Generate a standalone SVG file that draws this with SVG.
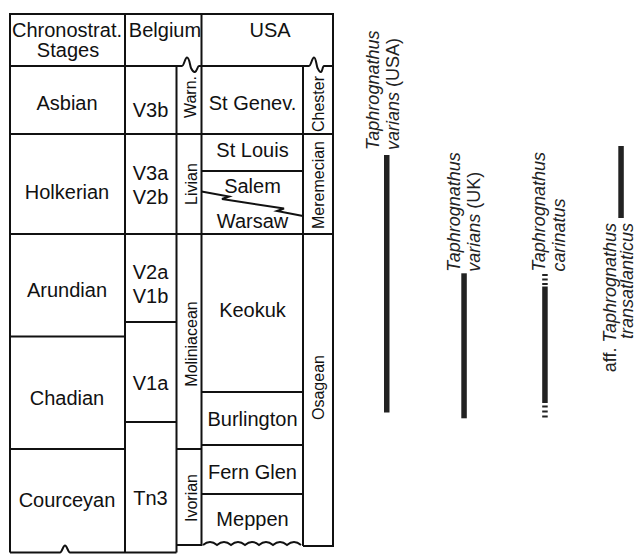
<svg xmlns="http://www.w3.org/2000/svg" width="637" height="554" viewBox="0 0 637 554">
<style>
.ln{stroke:#111;stroke-width:2;fill:none}
.t{font-family:"Liberation Sans",Arial,sans-serif;font-size:20px;fill:#111;text-anchor:middle}
.r{font-family:"Liberation Sans",Arial,sans-serif;font-size:16px;fill:#111;text-anchor:middle}
.tx{font-family:"Liberation Sans",Arial,sans-serif;font-size:18px;fill:#222}
.i{font-style:italic}
.bar{fill:#222}
</style>
<rect width="637" height="554" fill="#fff"/>
<g id="grid">
<path class="ln" d="M10,552.5 V14 H333 V546 H303 M10,552.5 H60 C62,552.5 63,545.5 65,545.5 C67,545.5 68,552.5 70,552.5 H176.5"/>
<path class="ln" d="M125,14 V552.5 M176.5,66 V552.5 M201.5,14 V545 H176.5 M303,66 V546"/>
<path class="ln" d="M10,66 H182 C184,66 185,57.5 187,57.5 C189.5,57.5 190,66 191,68 C192,70 193,72.5 195,72 C197,71.5 197.5,66 199,66 H309 C311,66 312,57.5 314,57.5 C316,57.5 316.5,66 317.5,68 C318.5,70 319.5,72.5 321,72 C322.5,71.5 322.5,66 324,66 H333"/>
<path class="ln" d="M10,134 H333 M10,234 H333 M10,336.5 H125 M10,449 H125 M125,322 H176.5 M125,422 H176.5 M176.5,449 H201.5"/>
<path class="ln" d="M201.5,171 H303 M201.5,392 H303 M201.5,445 H303 M201.5,494 H303"/>
<path class="ln" d="M201.5,191.5 L229,196.5 L222,199 L284,208.5 L277,211 L303,216"/>
<path class="ln" d="M203,545 q7,-6 14,0 q7,-6 14,0 q7,-6 14,0 q7,-6 14,0 q7,-6 14,0 q7,-6 14,0 q7,-6 14,0"/>
</g>
<g id="hdr-chrono"><text class="t" x="67" y="37">Chronostrat.</text><text class="t" x="68" y="57">Stages</text></g>
<g id="hdr-belgium"><text class="t" x="165" y="37">Belgium</text></g>
<g id="hdr-usa"><text class="t" x="270" y="37">USA</text></g>
<g id="asbian"><text class="t" x="67" y="110">Asbian</text></g>
<g id="holkerian"><text class="t" x="67" y="199">Holkerian</text></g>
<g id="arundian"><text class="t" x="67" y="296.5">Arundian</text></g>
<g id="chadian"><text class="t" x="67" y="405">Chadian</text></g>
<g id="courceyan"><text class="t" x="67" y="506.5">Courceyan</text></g>
<g id="v3b"><text class="t" x="150.5" y="117">V3b</text></g>
<g id="v3a-v2b"><text class="t" x="150.5" y="180">V3a</text><text class="t" x="150.5" y="204">V2b</text></g>
<g id="v2a-v1b"><text class="t" x="150.5" y="279">V2a</text><text class="t" x="150.5" y="303">V1b</text></g>
<g id="v1a"><text class="t" x="150.5" y="390">V1a</text></g>
<g id="tn3"><text class="t" x="150.5" y="505">Tn3</text></g>
<g id="warn"><text class="r" transform="translate(196,97) rotate(-90)">Warn.</text></g>
<g id="livian"><text class="r" transform="translate(196.5,184) rotate(-90)">Livian</text></g>
<g id="moliniacean"><text class="r" transform="translate(196.5,344) rotate(-90)">Moliniacean</text></g>
<g id="ivorian"><text class="r" transform="translate(196.5,498) rotate(-90)">Ivorian</text></g>
<g id="st-genev"><text class="t" x="252.5" y="110">St Genev.</text></g>
<g id="st-louis"><text class="t" x="252.5" y="156.5">St Louis</text></g>
<g id="salem"><text class="t" x="252.5" y="193">Salem</text></g>
<g id="warsaw"><text class="t" x="252.5" y="228">Warsaw</text></g>
<g id="keokuk"><text class="t" x="252.5" y="317">Keokuk</text></g>
<g id="burlington"><text class="t" x="252.5" y="426">Burlington</text></g>
<g id="fern-glen"><text class="t" x="252.5" y="479">Fern Glen</text></g>
<g id="meppen"><text class="t" x="252.5" y="526">Meppen</text></g>
<g id="chester"><text class="r" transform="translate(324,104) rotate(-90)">Chester</text></g>
<g id="meremecian"><text class="r" transform="translate(324,185) rotate(-90)">Meremecian</text></g>
<g id="osagean"><text class="r" transform="translate(324,387.5) rotate(-90)">Osagean</text></g>
<g id="t-varians-usa">
<text class="tx" transform="translate(379.3,150) rotate(-90)"><tspan class="i" x="0" y="0">Taphrognathus</tspan><tspan x="0" y="20"><tspan class="i">varians</tspan> (USA)</tspan></text>
<rect class="bar" x="384" y="155" width="5.5" height="257.5"/>
</g>
<g id="t-varians-uk">
<text class="tx" transform="translate(460,271.7) rotate(-90)"><tspan class="i" x="0" y="0">Taphrognathus</tspan><tspan x="0" y="19.5"><tspan class="i">varians</tspan> (UK)</tspan></text>
<rect class="bar" x="461.3" y="273.3" width="5.5" height="145"/>
</g>
<g id="t-carinatus">
<text class="tx" transform="translate(545,271.5) rotate(-90)"><tspan class="i" x="0" y="0">Taphrognathus</tspan><tspan class="i" x="0" y="19.5">carinatus</tspan></text>
<rect class="bar" x="542.2" y="274" width="5.5" height="2"/>
<rect class="bar" x="542.2" y="278.5" width="5.5" height="2"/>
<rect class="bar" x="542.2" y="283" width="5.5" height="2"/>
<rect class="bar" x="542.2" y="286.5" width="5.5" height="116.5"/>
<rect class="bar" x="542.2" y="405.5" width="5.5" height="2"/>
<rect class="bar" x="542.2" y="410.5" width="5.5" height="2"/>
<rect class="bar" x="542.2" y="415.5" width="5.5" height="2"/>
</g>
<g id="t-transatlanticus">
<text class="tx" transform="translate(616,223) rotate(-90)" text-anchor="end"><tspan x="0" y="0">aff. <tspan class="i">Taphrognathus</tspan></tspan><tspan class="i" x="0" y="16.5">transatlanticus</tspan></text>
<rect class="bar" x="618.3" y="146" width="5.5" height="72"/>
</g>
</svg>
